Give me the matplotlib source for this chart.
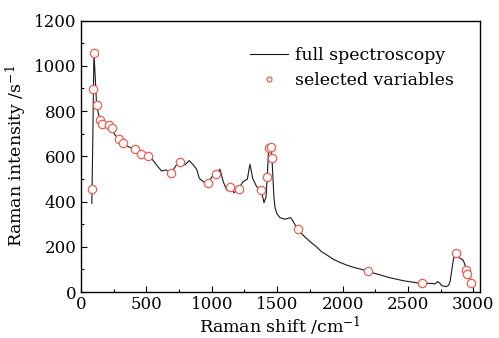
import matplotlib
matplotlib.use("Agg")
import matplotlib.pyplot as plt
from matplotlib.ticker import MultipleLocator

plt.rcParams.update({
    "font.family": "DejaVu Serif",
    "mathtext.fontset": "dejavuserif",
    "font.size": 12,
    "xtick.direction": "in",
    "ytick.direction": "in",
})

# full spectrum (Raman shift cm^-1, intensity s^-1)
shift = [84, 92, 100, 110, 120, 145, 158, 183, 216, 235, 260, 290, 319,
         362, 413, 459, 510, 540, 578, 617, 650, 690, 731, 757, 795, 828,
         859, 885, 905, 935, 973, 999, 1032, 1063, 1088, 1114, 1140, 1170,
         1205, 1240, 1272, 1292, 1313, 1343, 1378, 1399, 1415, 1424, 1435,
         1450, 1460, 1475, 1483, 1496, 1521, 1560, 1603, 1623, 1657, 1700,
         1751, 1800, 1840, 1890, 1929, 1980, 2031, 2080, 2133, 2192, 2230,
         2273, 2320, 2362, 2410, 2464, 2530, 2605, 2681, 2705, 2727, 2745,
         2758, 2791, 2810, 2821, 2842, 2854, 2867, 2885, 2905, 2923, 2941,
         2949, 2968, 2982, 2994]
intensity = [392, 700, 1056, 950, 827, 761, 735, 728, 739, 727, 695, 677,
             661, 643, 631, 609, 602, 591, 562, 535, 540, 528, 562, 575,
             562, 581, 562, 543, 503, 488, 481, 508, 521, 543, 488, 451,
             466, 439, 457, 488, 499, 565, 503, 466, 451, 395, 420, 507,
             636, 643, 594, 422, 377, 348, 329, 322, 329, 311, 277, 250,
             223, 200, 178, 160, 145, 131, 119, 110, 102, 93, 85, 78, 70,
             63, 57, 50, 44, 38, 38, 36, 46, 38, 28, 24, 30, 46, 127, 168,
             174, 154, 147, 139, 110, 90, 70, 38, 21]

# selected variables (circles)
sel_shift = [85, 90, 100, 120, 145, 158, 216, 235, 290, 319, 413, 459, 510,
             690, 757, 973, 1032, 1140, 1205, 1378, 1424, 1435, 1450, 1460,
             1657, 2192, 2605, 2867, 2941, 2949, 2982]
sel_int = [456, 898, 1058, 827, 761, 741, 739, 727, 677, 661, 631, 609, 602,
           528, 575, 481, 521, 466, 457, 451, 507, 636, 643, 594, 277, 93,
           38, 174, 97, 78, 38]

fig = plt.figure(figsize=(4.99, 3.38), dpi=100)
ax = fig.add_axes([0.162, 0.136, 0.8, 0.803])

ax.plot(shift, intensity, color="#1a1a1a", lw=0.8, label="full spectroscopy")
ax.plot(sel_shift, sel_int, ls="none", marker="o", ms=6, mfc="white",
        mec="#f0604f", mew=0.9, label="selected variables")

ax.set_xlim(0, 3050)
ax.set_ylim(0, 1200)
ax.xaxis.set_major_locator(MultipleLocator(500))
ax.xaxis.set_minor_locator(MultipleLocator(250))
ax.yaxis.set_major_locator(MultipleLocator(200))
ax.yaxis.set_minor_locator(MultipleLocator(100))
ax.tick_params(which="major", length=4, width=0.8, pad=3)
ax.tick_params(which="minor", length=2.5, width=0.8)
for s in ax.spines.values():
    s.set_linewidth(1.0)

ax.set_xlabel("Raman shift /cm$^{-1}$", fontsize=12.5, labelpad=1)
ax.set_ylabel("Raman intensity /s$^{-1}$", fontsize=12.5, labelpad=4)

ax.legend(loc="upper right", frameon=False, fontsize=12.5, markerscale=0.6,
          handlelength=2.2, borderaxespad=1.1, handletextpad=0.4,
          labelspacing=0.5)

fig.savefig("out.png", dpi=100)
